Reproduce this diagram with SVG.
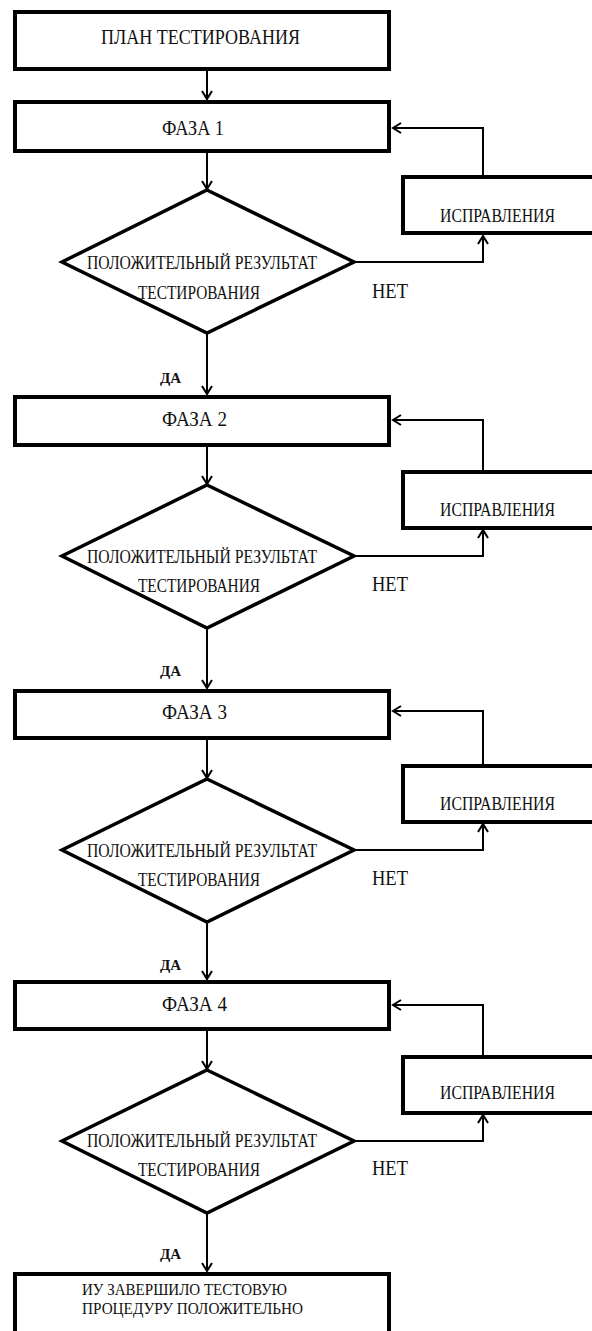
<svg xmlns="http://www.w3.org/2000/svg" width="592" height="1331" viewBox="0 0 592 1331" font-family="'Liberation Serif', 'Times New Roman', serif">
<style>
.box{fill:#fff;stroke:#000;stroke-width:4}
.dia{fill:#fff;stroke:#000;stroke-width:3.5;stroke-linejoin:miter}
.ln{fill:none;stroke:#000;stroke-width:2}
text{font-family:"Liberation Serif","Times New Roman",serif;fill:#111}
.bt{font-size:20px}
.ft{font-size:16.5px}
.dt{font-size:18.5px;text-anchor:middle}
.ct{font-size:18px}
.no{font-size:20px}
.yes{font-size:15px;font-weight:bold}
</style>
<defs>
<marker id="ah" markerUnits="userSpaceOnUse" markerWidth="14" markerHeight="14" viewBox="-10 -7 12 14" refX="0" refY="0" orient="auto">
<path d="M -8 -5 L 0 0 L -8 5" fill="none" stroke="#000" stroke-width="2"/>
</marker>
</defs>
<rect width="592" height="1331" fill="#fff"/>
<g id="connectors">
<line class="ln" x1="207" y1="71" x2="207" y2="99" marker-end="url(#ah)"/>
<line class="ln" x1="207" y1="152" x2="207" y2="189" marker-end="url(#ah)"/>
<line class="ln" x1="207" y1="333" x2="207" y2="394" marker-end="url(#ah)"/>
<line class="ln" x1="207" y1="447" x2="207" y2="484" marker-end="url(#ah)"/>
<line class="ln" x1="207" y1="628" x2="207" y2="688" marker-end="url(#ah)"/>
<line class="ln" x1="207" y1="740" x2="207" y2="778" marker-end="url(#ah)"/>
<line class="ln" x1="207" y1="922" x2="207" y2="979" marker-end="url(#ah)"/>
<line class="ln" x1="207" y1="1031" x2="207" y2="1069" marker-end="url(#ah)"/>
<line class="ln" x1="207" y1="1213" x2="207" y2="1271" marker-end="url(#ah)"/>
<polyline class="ln" points="354,262 483,262 483,236" marker-end="url(#ah)"/>
<polyline class="ln" points="483,175 483,128 393,128" marker-end="url(#ah)"/>
<polyline class="ln" points="354,556 483,556 483,530" marker-end="url(#ah)"/>
<polyline class="ln" points="483,470 483,420 393,420" marker-end="url(#ah)"/>
<polyline class="ln" points="354,850 483,850 483,824" marker-end="url(#ah)"/>
<polyline class="ln" points="483,764 483,711 393,711" marker-end="url(#ah)"/>
<polyline class="ln" points="354,1141 483,1141 483,1115" marker-end="url(#ah)"/>
<polyline class="ln" points="483,1055 483,1005 393,1005" marker-end="url(#ah)"/>
</g>
<g id="plan"><rect class="box" x="15" y="12" width="374" height="57"/><text class="bt" x="101" y="44" textLength="199" lengthAdjust="spacingAndGlyphs">ПЛАН ТЕСТИРОВАНИЯ</text></g>
<g id="phase1"><rect class="box" x="15" y="102" width="374" height="49"/><text class="bt" x="162" y="135" textLength="62" lengthAdjust="spacingAndGlyphs">ФАЗА 1</text></g>
<g id="check1"><polygon class="dia" points="207,190 354,262 207,333 62,262"/><text class="dt" x="202" y="269" textLength="230" lengthAdjust="spacingAndGlyphs">ПОЛОЖИТЕЛЬНЫЙ РЕЗУЛЬТАТ</text><text class="dt" x="199" y="299" textLength="122" lengthAdjust="spacingAndGlyphs">ТЕСТИРОВАНИЯ</text></g>
<g id="fix1"><rect class="box" x="403" y="177" width="200" height="56"/><text class="ct" x="440" y="222" textLength="115" lengthAdjust="spacingAndGlyphs">ИСПРАВЛЕНИЯ</text></g>
<g id="labels1"><text class="no" x="372" y="298" textLength="36" lengthAdjust="spacingAndGlyphs">НЕТ</text><text class="yes" x="160" y="383">ДА</text></g>
<g id="phase2"><rect class="box" x="15" y="397" width="374" height="48"/><text class="bt" x="162" y="426" textLength="65" lengthAdjust="spacingAndGlyphs">ФАЗА 2</text></g>
<g id="check2"><polygon class="dia" points="207,485 354,556 207,628 62,556"/><text class="dt" x="202" y="563" textLength="230" lengthAdjust="spacingAndGlyphs">ПОЛОЖИТЕЛЬНЫЙ РЕЗУЛЬТАТ</text><text class="dt" x="199" y="592" textLength="122" lengthAdjust="spacingAndGlyphs">ТЕСТИРОВАНИЯ</text></g>
<g id="fix2"><rect class="box" x="403" y="472" width="200" height="56"/><text class="ct" x="440" y="516" textLength="115" lengthAdjust="spacingAndGlyphs">ИСПРАВЛЕНИЯ</text></g>
<g id="labels2"><text class="no" x="372" y="591" textLength="36" lengthAdjust="spacingAndGlyphs">НЕТ</text><text class="yes" x="160" y="676">ДА</text></g>
<g id="phase3"><rect class="box" x="15" y="691" width="374" height="47"/><text class="bt" x="162" y="719" textLength="65" lengthAdjust="spacingAndGlyphs">ФАЗА 3</text></g>
<g id="check3"><polygon class="dia" points="207,779 354,850 207,922 62,850"/><text class="dt" x="202" y="857" textLength="230" lengthAdjust="spacingAndGlyphs">ПОЛОЖИТЕЛЬНЫЙ РЕЗУЛЬТАТ</text><text class="dt" x="199" y="886" textLength="122" lengthAdjust="spacingAndGlyphs">ТЕСТИРОВАНИЯ</text></g>
<g id="fix3"><rect class="box" x="403" y="766" width="200" height="56"/><text class="ct" x="440" y="810" textLength="115" lengthAdjust="spacingAndGlyphs">ИСПРАВЛЕНИЯ</text></g>
<g id="labels3"><text class="no" x="372" y="885" textLength="36" lengthAdjust="spacingAndGlyphs">НЕТ</text><text class="yes" x="160" y="970">ДА</text></g>
<g id="phase4"><rect class="box" x="15" y="982" width="374" height="47"/><text class="bt" x="162" y="1011" textLength="65" lengthAdjust="spacingAndGlyphs">ФАЗА 4</text></g>
<g id="check4"><polygon class="dia" points="207,1070 354,1141 207,1213 62,1141"/><text class="dt" x="202" y="1147" textLength="230" lengthAdjust="spacingAndGlyphs">ПОЛОЖИТЕЛЬНЫЙ РЕЗУЛЬТАТ</text><text class="dt" x="199" y="1176" textLength="122" lengthAdjust="spacingAndGlyphs">ТЕСТИРОВАНИЯ</text></g>
<g id="fix4"><rect class="box" x="403" y="1057" width="200" height="56"/><text class="ct" x="440" y="1099" textLength="115" lengthAdjust="spacingAndGlyphs">ИСПРАВЛЕНИЯ</text></g>
<g id="labels4"><text class="no" x="372" y="1175" textLength="36" lengthAdjust="spacingAndGlyphs">НЕТ</text><text class="yes" x="160" y="1259">ДА</text></g>
<g id="done"><rect class="box" x="15" y="1274" width="374" height="100"/><text class="ft" x="82" y="1295" textLength="205" lengthAdjust="spacingAndGlyphs">ИУ ЗАВЕРШИЛО ТЕСТОВУЮ</text><text class="ft" x="82" y="1314" textLength="221" lengthAdjust="spacingAndGlyphs">ПРОЦЕДУРУ ПОЛОЖИТЕЛЬНО</text></g>
</svg>
